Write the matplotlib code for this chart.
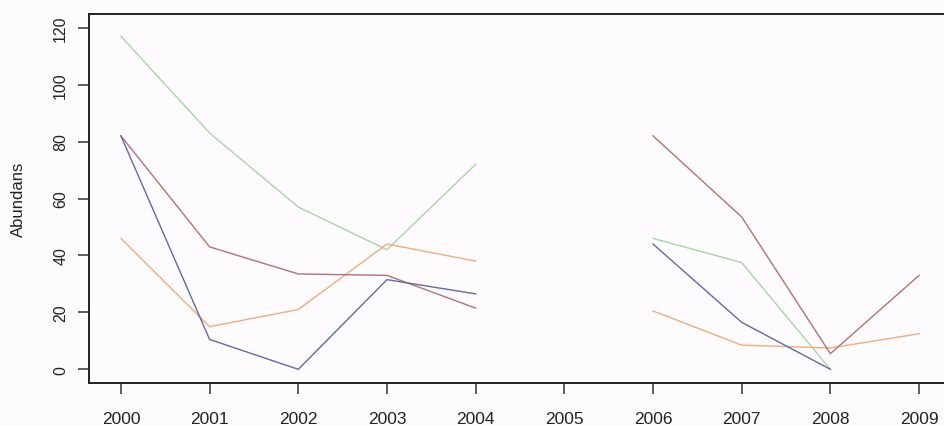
import numpy as np
import matplotlib
matplotlib.use("Agg")
import matplotlib.pyplot as plt

plt.rcParams['font.family'] = ['Liberation Sans', 'DejaVu Sans']

years = [2000, 2001, 2002, 2003, 2004, 2005, 2006, 2007, 2008, 2009]
nan = np.nan
green = [117, 83, 57, 42, 72, nan, 46, 37.5, 0, nan]
red = [82, 43, 33.5, 33, 21.5, nan, 82, 53.5, 5.5, 33]
blue = [82, 10.5, 0, 31.5, 26.5, nan, 44, 16.5, 0, nan]
orange = [46, 15, 21, 44, 38, nan, 20.5, 8.5, 7.5, 12.5]

series = [
    (green, "#a8d6a2"),
    (orange, "#eeae7c"),
    (red, "#b27274"),
    (blue, "#6268a8"),
]

bg = "#fdfbfd"
fig = plt.figure(figsize=(9.44, 4.27), dpi=100, facecolor=bg)
ax = fig.add_axes([89 / 944, 43 / 427, (951 - 89) / 944, (412 - 43) / 427])
ax.set_facecolor(bg)

for vals, col in series:
    ax.plot(years, vals, color=col, lw=1.0, solid_joinstyle="miter")

ax.set_xlim(2000 - 0.36, 2009 + 0.36)
ax.set_ylim(-4.8, 124.8)
ax.set_xticks(years)
ax.set_xticklabels([str(y) for y in years], fontsize=12.5, color="#222222")
ax.set_yticks([0, 20, 40, 60, 80, 100, 120])
ax.set_yticklabels(["0", "20", "40", "60", "80", "100", "120"], fontsize=11.5,
                   rotation=90, va="center", color="#222222")
ax.tick_params(axis="x", direction="out", length=8, width=1.1, pad=12, color="#333333")
ax.tick_params(axis="y", direction="out", length=8, width=1.1, pad=7, color="#333333")
for s in ax.spines.values():
    s.set_linewidth(1.4)
    s.set_color("#222222")

ax.set_ylabel("Abundans", fontsize=12, color="#222222")
ax.yaxis.set_label_coords(-(89 - 26) / (951 - 89), 0.5)

fig.savefig("out.png", dpi=100, facecolor=bg)
